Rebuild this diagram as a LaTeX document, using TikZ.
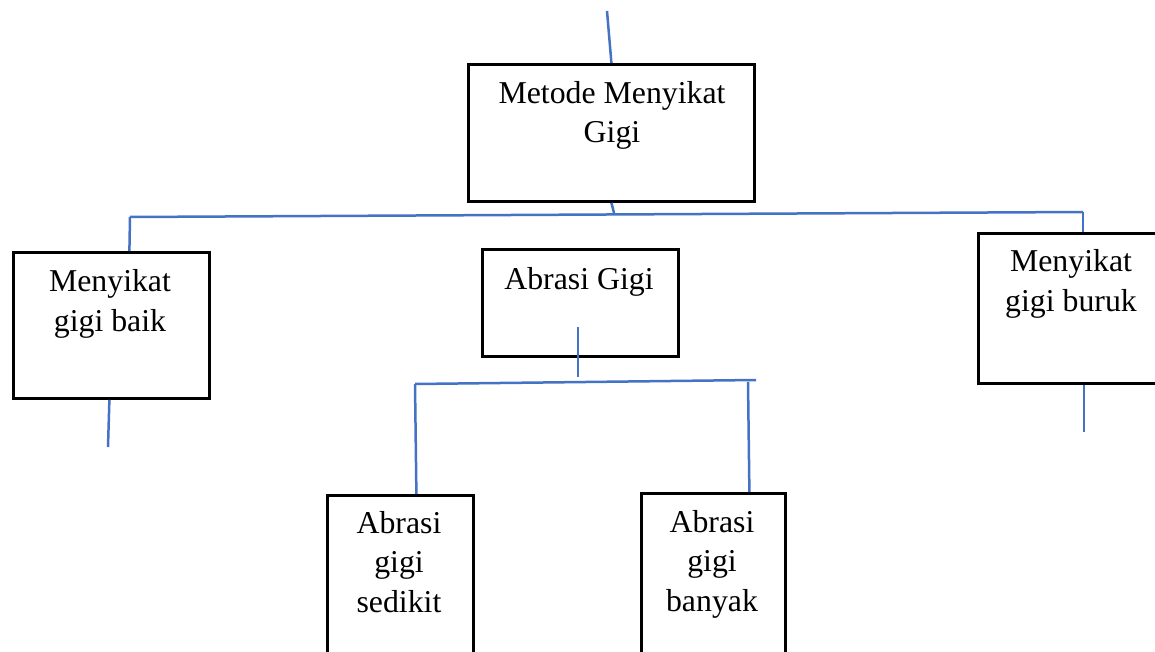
\documentclass[tikz,border=0pt]{standalone}
\usepackage{fontspec}
\setmainfont{Liberation Serif}
\definecolor{linkblue}{RGB}{68,114,196}
\begin{document}
\begin{tikzpicture}[x=1pt,y=-1pt,
  box/.style={draw=black, line width=2.8pt, inner sep=0pt, anchor=north west},
  lbl/.style={font=\fontsize{31.8}{39.5}\selectfont, align=center, anchor=base, inner sep=0pt},
  conn/.style={draw=linkblue, line width=2.5pt}]
\useasboundingbox (0,0) rectangle (1155,652);
\clip (0,0) rectangle (1155,652);
% boxes
\node[box, minimum width=286pt, minimum height=137pt] (top) at (467,63) {};
\node[box, minimum width=196pt, minimum height=146pt] (left) at (12,251) {};
\node[box, minimum width=196pt, minimum height=107pt] (mid) at (481,248) {};
\node[box, minimum width=200pt, minimum height=150pt] (right) at (977,232) {};
\node[box, minimum width=146pt, minimum height=200pt] (bl) at (326,494) {};
\node[box, minimum width=144pt, minimum height=200pt] (br) at (640,492) {};
% labels (base anchor = baseline of last line)
\node[lbl] (ttop) at (612,143) {Metode Menyikat\\Gigi};
\node[lbl] (tleft) at (110,331) {Menyikat\\gigi baik};
\node[lbl] (tmid) at (579,289) {Abrasi Gigi};
\node[lbl] (tright) at (1071,311) {Menyikat\\gigi buruk};
\node[lbl] (tbl) at (399,612) {Abrasi\\gigi\\sedikit};
\node[lbl] (tbr) at (712,611) {Abrasi\\gigi\\banyak};
% coordinates
\coordinate (topin) at (607,11);
\coordinate (busM) at (614,213);
\coordinate (busL) at (130,217);
\coordinate (busR) at (1083,212);
\coordinate (leftout) at (108,447);
\coordinate (rightout) at (1084,432);
\coordinate (midin) at (578,327);
\coordinate (midbus) at (578,377);
\coordinate (bus2L) at (415,384);
\coordinate (bus2R) at (756,380);
\coordinate (bus2Rd) at (748,382);
% connectors
\draw[conn] (topin) -- (top.north);
\draw[conn] (top.south) -- (busM);
\draw[conn] (busL) -- (busR);
\draw[conn] (busL) -- ([xshift=18pt]left.north);
\draw[conn] (busR) -- ([xshift=106pt]right.north west);
\draw[conn] ([xshift=-2pt]left.south) -- (leftout);
\draw[conn] ([xshift=107pt]right.south west) -- (rightout);
\draw[conn] (midin) -- (midbus);
\draw[conn] (bus2L) -- (bus2R);
\draw[conn] (bus2L) -- ([xshift=16pt]bl.north);
\draw[conn] (bus2Rd) -- ([xshift=36pt]br.north);
\end{tikzpicture}
\end{document}
